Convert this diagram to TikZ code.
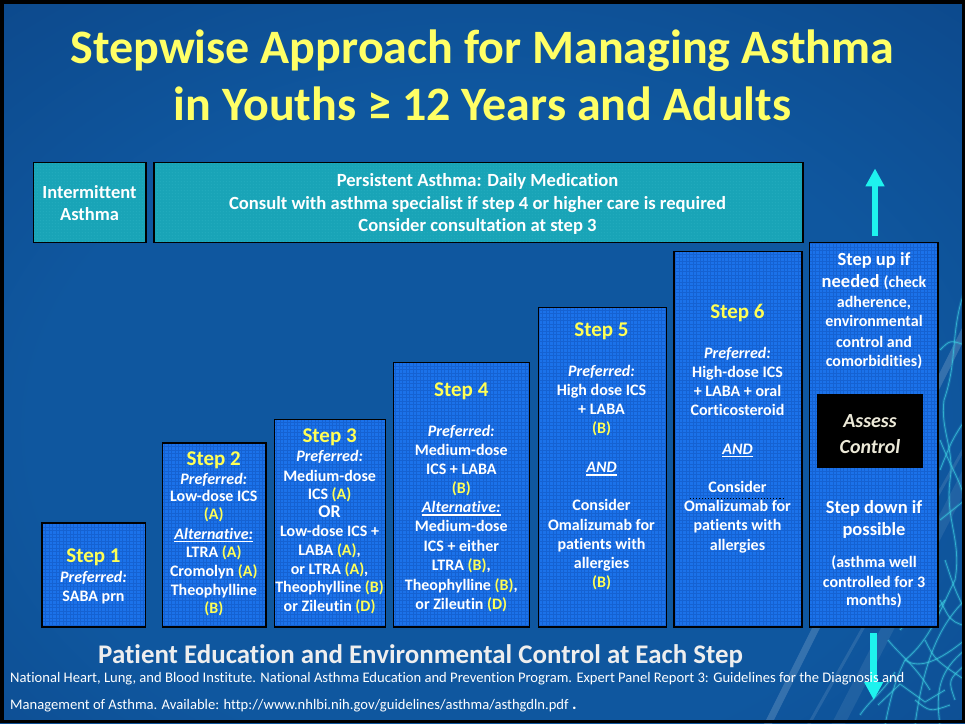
\documentclass[tikz,border=0pt]{standalone}
\usepackage{fontspec}
\setmainfont{Carlito}[Ligatures=NoCommon]
\usetikzlibrary{arrows.meta,patterns.meta}

\definecolor{titleyellow}{HTML}{FFFF66}
\definecolor{stepyellow}{HTML}{FFFF55}
\definecolor{stepblue}{HTML}{1B72EA}
\definecolor{stepgrid}{HTML}{1562D2}
\definecolor{tealbox}{HTML}{19A4B7}
\definecolor{tealdot}{HTML}{3CC2D0}
\definecolor{arrowcyan}{HTML}{1EF2EE}
\definecolor{assesstext}{HTML}{ECE9D8}
\definecolor{glowc}{HTML}{0F579F}
\definecolor{midc}{HTML}{0B4384}
\definecolor{edgec}{HTML}{051A3C}
\definecolor{neurocyan}{HTML}{3CCCE0}
\definecolor{softwhite}{HTML}{EEEEEE}

\pgfdeclareradialshading{bgglow}{\pgfpoint{0bp}{0bp}}{color(0bp)=(glowc); color(16bp)=(glowc); color(32bp)=(midc); color(50bp)=(edgec)}

\tikzdeclarepattern{
  name=boxmesh, type=uncolored,
  bottom left={(-0.5pt,-0.5pt)}, top right={(4pt,4pt)},
  tile size={(3.5pt,3.5pt)},
  code={\draw[line width=0.4pt] (0pt,0pt) -- (3.5pt,0pt) (0pt,0pt) -- (0pt,3.5pt);}
}
\tikzdeclarepattern{
  name=boxdots, type=uncolored,
  bottom left={(0pt,0pt)}, top right={(3pt,3pt)},
  tile size={(3pt,3pt)},
  code={\fill (1.5pt,1.5pt) circle (0.5pt);}
}

\newcommand\bodyf{\fontsize{16}{19}\selectfont\bfseries}
\newcommand\headf{\fontsize{21}{24}\selectfont\bfseries}
\newcommand\bigf{\fontsize{18.5}{22}\selectfont\bfseries}
\newcommand\yel[1]{\textcolor{stepyellow}{#1}}
\newcommand\undl[1]{{\setbox0=\hbox{#1}\rlap{\rule[-2.8pt]{\wd0}{1.2pt}}\box0}}

\begin{document}
\begin{tikzpicture}[x=1pt,y=-1pt,
  stepbox/.style={fill=stepblue, postaction={pattern=boxmesh, pattern color=stepgrid},
    postaction={draw=black, line width=1.3pt}, inner sep=0pt, anchor=north west},
  tealpanel/.style={fill=tealbox, postaction={pattern=boxdots, pattern color=tealdot},
    postaction={draw=black, line width=1.3pt}, inner sep=0pt, anchor=north west},
  ln/.style={anchor=base, inner sep=0pt, text=white, font=\bodyf},
  hd/.style={anchor=base, inner sep=0pt, text=stepyellow, font=\headf},
  big/.style={anchor=base, inner sep=0pt, text=white, font=\bigf},
  neuro/.style={draw=neurocyan, line width=0.8pt, opacity=0.7},
  glow/.style={draw=neurocyan, line width=3pt, opacity=0.18},
  bigarrow/.style={draw=arrowcyan, line width=6.5pt,
    -{Triangle[width=18pt,length=18pt]}}
]
\useasboundingbox (0,0) rectangle (965,723);

% background glow
\begin{scope}
  \clip (0,0) rectangle (965,723);
  \shade[shading=bgglow] (-220,-90) rectangle (1180,950);
  % light streaks in the lower right
  \draw[white, opacity=0.16, line width=7pt] (760,740) -- (980,300);
  \draw[white, opacity=0.10, line width=3pt] (800,740) -- (980,420);
  \draw[white, opacity=0.08, line width=12pt] (830,740) -- (990,430);
  % nerve-like network on the right edge
  \foreach \sty in {glow,neuro}{
  \draw[\sty] (965,290) .. controls (950,330) and (958,360) .. (944,400)
                         .. controls (940,430) and (955,450) .. (950,480)
                         .. controls (945,520) and (962,540) .. (955,580)
                         .. controls (940,610) and (930,640) .. (905,660)
                         .. controls (895,680) and (890,700) .. (885,725);
  \draw[\sty] (965,420) .. controls (952,440) .. (940,470);
  \draw[\sty] (940,520) -- (965,500);
  \draw[\sty] (965,600) .. controls (945,620) and (925,650) .. (915,725);
  \draw[\sty] (965,650) .. controls (940,670) and (935,690) .. (940,725);
  \draw[\sty] (925,640) .. controls (935,660) .. (965,680);
  \draw[\sty] (888,640) .. controls (900,655) and (915,665) .. (930,690);
  \draw[\sty] (878,705) -- (900,684) -- (925,702) -- (945,690);
  \draw[\sty] (945,560) .. controls (955,590) .. (965,610);
  \draw[\sty] (940,350) .. controls (950,340) .. (965,345);
  \draw[\sty] (900,630) .. controls (912,615) and (930,620) .. (945,600);
  \draw[\sty] (955,700) .. controls (948,680) .. (965,665);
  \draw[\sty] (860,715) .. controls (870,700) and (885,690) .. (895,672);
  \draw[\sty] (940,440) .. controls (952,470) and (960,480) .. (965,500);
  \draw[\sty] (905,660) .. controls (920,670) and (940,660) .. (965,640);
  \draw[\sty] (915,700) .. controls (930,712) .. (950,705);
  \draw[\sty] (940,600) .. controls (950,620) .. (962,625);
  }
\end{scope}

% title
\node[anchor=base, inner sep=0pt, text=titleyellow, font=\fontsize{48}{51}\selectfont\bfseries]
  (title1) at (482.5,63.5) {Stepwise Approach for Managing Asthma};
\node[anchor=base, inner sep=0pt, text=titleyellow, font=\fontsize{48}{51}\selectfont\bfseries]
  (title2) at (482.5,120.5) {in Youths ≥ 12 Years and Adults};

% classification banners
\node[tealpanel, minimum width=112.4pt, minimum height=80pt] (intbox) at (33.3,162.3) {};
\node[tealpanel, minimum width=649pt, minimum height=80pt] (perbox) at (153.7,162.3) {};
\node[anchor=base, inner sep=0pt, text=white, font=\fontsize{18.5}{22}\selectfont\bfseries]
  (int1) at (89.5,198.3) {Intermittent};
\node[anchor=base, inner sep=0pt, text=white, font=\fontsize{18.5}{22}\selectfont\bfseries]
  (int2) at (89.5,220) {Asthma};
\foreach \lnY/\lnT [count=\k] in {186/{Persistent Asthma: Daily Medication},
    209.5/{Consult with asthma specialist if step 4 or higher care is required},
    231.5/{Consider consultation at step 3}}
  \node[anchor=base, inner sep=0pt, text=white, font=\fontsize{18.6}{21}\selectfont\bfseries]
    (per\k) at (477.5,\lnY) {\lnT};

% step boxes
\node[stepbox, minimum width=103.6pt, minimum height=104pt] (s1) at (41.7,522.7) {};
\node[stepbox, minimum width=103.4pt, minimum height=184pt] (s2) at (162.3,442.7) {};
\node[stepbox, minimum width=110.8pt, minimum height=207.7pt] (s3) at (274.3,419) {};
\node[stepbox, minimum width=136pt, minimum height=264.4pt] (s4) at (393.3,362.3) {};
\node[stepbox, minimum width=128pt, minimum height=319.7pt] (s5) at (538,307) {};
\node[stepbox, minimum width=128pt, minimum height=375.7pt] (s6) at (673.7,251) {};
\node[stepbox, minimum width=128.6pt, minimum height=384.7pt] (sc) at (809.3,242) {};
\node[fill=black, inner sep=0pt, anchor=north west, minimum width=106pt, minimum height=74pt]
  (assess) at (817,394) {};

% step 1
\node[hd] (s1h) at (93.5,562.7) {Step 1};
\foreach \lnY/\lnT [count=\k] in {582/{\itshape Preferred:}, 601.7/{SABA prn}}
  \node[ln] (s1l\k) at (93.5,\lnY) {\lnT};

% step 2
\node[hd] (s2h) at (213.8,465) {Step 2};
\foreach \lnY/\lnT [count=\k] in {484/{\itshape Preferred:}, 501.7/{Low-dose ICS},
    519.5/{\yel{(A)}}, 539/{\undl{\itshape Alternative:}}, 557.5/{LTRA \yel{(A)}},
    576.5/{Cromolyn \yel{(A)}}, 595/{Theophylline}, 613.3/{\yel{(B)}}}
  \node[ln] (s2l\k) at (213.8,\lnY) {\lnT};

% step 3
\node[hd] (s3h) at (329.6,442.7) {Step 3};
\foreach \lnY/\lnT [count=\k] in {461/{\itshape Preferred:}, 481/{Medium-dose},
    499.3/{ICS \yel{(A)}}, 517.5/{\fontsize{18}{20}\selectfont OR}, 536.7/{Low-dose ICS +},
    555/{LABA \yel{(A)},}, 574/{or LTRA \yel{(A)},}, 592.7/{Theophylline \yel{(B)}},
    611/{or Zileutin \yel{(D)}}}
  \node[ln] (s3l\k) at (329.6,\lnY) {\lnT};

% step 4
\node[hd] (s4h) at (461.3,396) {Step 4};
\foreach \lnY/\lnT [count=\k] in {436/{\itshape Preferred:}, 455/{Medium-dose},
    474/{ICS + LABA}, 493.5/{\yel{(B)}}, 512.7/{\undl{\itshape Alternative:}},
    531.7/{Medium-dose}, 551/{ICS + either}, 570/{LTRA \yel{(B)},},
    590/{Theophylline \yel{(B)},}, 609/{or Zileutin \yel{(D)}}}
  \node[ln] (s4l\k) at (461.3,\lnY) {\lnT};

% step 5
\node[hd] (s5h) at (601.5,336.7) {Step 5};
\foreach \lnY/\lnT [count=\k] in {376/{\itshape Preferred:}, 395/{High dose ICS},
    414/{+ LABA}, 433.5/{\yel{(B)}}, 472.7/{\undl{\itshape AND}},
    510/{Consider}, 530/{Omalizumab for}, 549/{patients with}, 568.3/{allergies},
    587.3/{\yel{(B)}}}
  \node[ln] (s5l\k) at (601.5,\lnY) {\lnT};

% step 6
\node[hd] (s6h) at (737.5,318.3) {Step 6};
\foreach \lnY/\lnT [count=\k] in {358.3/{\itshape Preferred:}, 377.3/{High-dose ICS},
    396/{+ LABA + oral}, 415/{Corticosteroid}, 454.3/{\undl{\itshape AND}},
    492.3/{Consider}, 511/{Omalizumab for}, 530/{patients with}, 550/{allergies}}
  \node[ln] (s6l\k) at (737.5,\lnY) {\lnT};
\coordinate (dotL) at (689.5,498.5);
\coordinate (dotR) at (784.5,498.5);
\draw[black, line width=1.1pt, dotted] (dotL) -- (dotR);

% control column
\node[big] (up1) at (874,265.4) {Step up if};
\node[big] (up2) at (874,287.4) {needed {\bodyf(check}};
\foreach \lnY/\lnT [count=\k] in {307/{adherence,}, 326.8/{environmental},
    347/{control and}, 366.6/{comorbidities)}}
  \node[ln] (upl\k) at (874,\lnY) {\lnT};
\node[anchor=base, inner sep=0pt, text=assesstext, font=\fontsize{20}{24}\selectfont\bfseries\itshape]
  (as1) at (870,427.4) {Assess};
\node[anchor=base, inner sep=0pt, text=assesstext, font=\fontsize{20}{24}\selectfont\bfseries\itshape]
  (as2) at (870,453.3) {Control};
\node[big] (dn1) at (874,513.4) {Step down if};
\node[big] (dn2) at (874,535.3) {possible};
\foreach \lnY/\lnT [count=\k] in {567.4/{(asthma well}, 587/{controlled for 3}, 605.5/{months)}}
  \node[ln] (dnl\k) at (874,\lnY) {\lnT};

% step up / step down arrows
\coordinate (upA) at (875,236);
\coordinate (upB) at (875,168.4);
\coordinate (dnA) at (873.7,633.3);
\coordinate (dnB) at (873.7,700);
\draw[bigarrow] (upA) -- (upB);
\draw[bigarrow] (dnA) -- (dnB);

% footer
\node[anchor=base, inner sep=0pt, text=softwhite, font=\fontsize{26.9}{30}\selectfont\bfseries]
  (edu) at (420.5,663.3) {Patient Education and Environmental Control at Each Step};
\node[anchor=base west, inner sep=0pt, text=white, font=\fontsize{14.6}{17}\selectfont]
  (ref1) at (10,682.5) {National Heart, Lung, and Blood Institute. National Asthma Education and Prevention Program. Expert Panel Report 3: Guidelines for the Diagnosis and};
\node[anchor=base west, inner sep=0pt, text=white, font=\fontsize{14.6}{17}\selectfont]
  (ref2) at (10,709) {Management of Asthma. Available: http://www.nhlbi.nih.gov/guidelines/asthma/asthgdln.pdf {\bfseries\fontsize{17}{18}\selectfont.}};

% frame
\draw[black, line width=3.5pt] (1.75,1.75) rectangle (963.25,721.25);
\end{tikzpicture}
\end{document}
